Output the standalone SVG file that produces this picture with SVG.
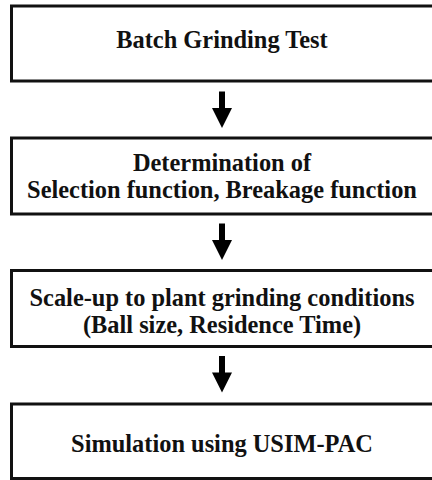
<svg xmlns="http://www.w3.org/2000/svg" width="432" height="480" viewBox="0 0 432 480">
  <style>
    .box { fill: #ffffff; stroke: #111111; stroke-width: 3; }
    .label { font-family: "Liberation Serif", "Times New Roman", serif; font-weight: bold; font-size: 24.4px; fill: #111111; text-anchor: middle; }
    .arrow { fill: #000000; }
  </style>
  <defs>
    <!-- block down-arrow: shaft plus triangular head, origin at shaft top centre -->
    <path id="downArrow" d="M -3 0 H 3 V 16.5 H 10 L 0 36.5 L -10 16.5 H -3 Z"/>
  </defs>
  <rect width="432" height="480" fill="#ffffff"/>

  <g id="connectors" class="arrow">
    <use href="#downArrow" x="222" y="91.5"/>
    <use href="#downArrow" x="222" y="223.5"/>
    <use href="#downArrow" x="222" y="356"/>
  </g>

  <g id="batch-test">
    <rect class="box" x="11.5" y="6" width="422" height="75"/>
    <text class="label" x="222" y="48">Batch Grinding Test</text>
  </g>

  <g id="determination">
    <rect class="box" x="11.5" y="138" width="422" height="76"/>
    <text class="label" x="222" y="170.5">Determination of</text>
    <text class="label" x="222" y="197.5">Selection function, Breakage function</text>
  </g>

  <g id="scale-up">
    <rect class="box" x="11.5" y="270.5" width="422" height="76"/>
    <text class="label" x="222" y="305.5">Scale-up to plant grinding conditions</text>
    <text class="label" x="222" y="333">(Ball size, Residence Time)</text>
  </g>

  <g id="simulation">
    <rect class="box" x="11.5" y="404" width="422" height="74.5"/>
    <text class="label" x="222" y="451.5">Simulation using USIM-PAC</text>
  </g>
</svg>
